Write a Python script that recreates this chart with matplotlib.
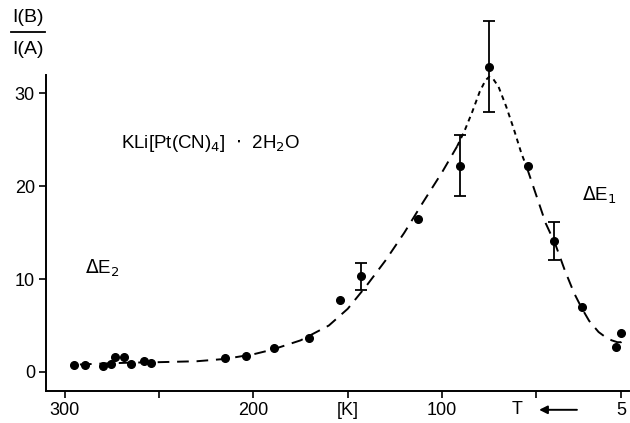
import numpy as np
import matplotlib
matplotlib.use('Agg')
from matplotlib import pyplot as plt

# measured points: temperature [K] and intensity ratio I(B)/I(A)
temp = [295, 289.4, 280, 275.5, 273.5, 268.6, 265, 258.2, 254.5, 215, 204, 189,
        170.4, 154, 143, 113, 90.5, 75, 54.5, 40.4, 26, 7.8, 4.9]
ratio = [0.75, 0.75, 0.65, 0.8, 1.6, 1.6, 0.9, 1.15, 0.95, 1.55, 1.75, 2.6,
         3.7, 7.7, 10.3, 16.5, 22.2, 32.9, 22.2, 14.05, 7.0, 2.7, 4.15]

# error bars (lower, upper) for the few points that have them
err_temp = [143, 90.5, 75, 40.4]
err_val = [10.3, 22.2, 32.9, 14.05]
err_lo = [8.8, 18.9, 28.0, 12.1]
err_hi = [11.7, 25.5, 37.8, 16.1]

# guide curve (three pieces, different dash lengths)
curve_left_t = [292, 280, 265, 250, 230, 215, 200, 190, 175, 160, 150, 140, 130, 120, 110, 100, 92]
curve_left_v = [0.8, 0.9, 1.0, 1.05, 1.15, 1.4, 1.9, 2.4, 3.4, 5.0, 6.8, 9.3, 12.0, 15.0, 18.3, 21.5, 24.3]
curve_peak_t = [92, 88, 84, 80, 77, 75, 73, 70, 66, 62, 58, 55]
curve_peak_v = [24.3, 26.0, 28.0, 30.2, 31.4, 31.8, 31.6, 30.7, 28.6, 26.2, 23.6, 22.0]
curve_right_t = [55, 50, 45, 40, 35, 30, 26, 22, 17, 13, 10, 7, 5, 3.5]
curve_right_v = [22.0, 19.0, 16.0, 13.8, 11.0, 8.5, 6.9, 5.5, 4.3, 3.7, 3.4, 3.2, 3.2, 3.4]

plt.rcParams['font.family'] = ['Liberation Sans', 'DejaVu Sans']

fig = plt.figure(figsize=(6.3, 4.23), dpi=100)
ax = fig.add_axes([0.073, 0.076, 0.925, 0.747])

ax.plot(curve_left_t, curve_left_v, color='black', lw=1.4, dashes=(6, 4))
ax.plot(curve_peak_t, curve_peak_v, color='black', lw=1.4, dashes=(2.5, 2.2))
ax.plot(curve_right_t, curve_right_v, color='black', lw=1.4, dashes=(6, 4))

ax.plot(temp, ratio, 'o', color='black', ms=5.5, clip_on=False, zorder=3)
yerr = [np.array(err_val) - np.array(err_lo), np.array(err_hi) - np.array(err_val)]
ax.errorbar(err_temp, err_val, yerr=yerr, fmt='none', ecolor='black',
            elinewidth=1.3, capsize=4, capthick=1.3, clip_on=False)

ax.set_xlim(310, 1)
ax.set_ylim(-2.04, 32)
ax.set_xticks([300, 250, 200, 150, 100, 50, 5])
ax.set_xticklabels(['300', '', '200', '[K]', '100', '', '5'])
ax.set_yticks([0, 10, 20, 30])
ax.tick_params(labelsize=13, length=5, width=1.2, pad=3)
for s in ['top', 'right']:
    ax.spines[s].set_visible(False)
for s in ['left', 'bottom']:
    ax.spines[s].set_linewidth(1.4)

# "T <-" under the axis
xt = ax.get_xaxis_transform()
ax.text(60, -0.058, 'T', transform=xt, ha='center', va='center', fontsize=13)
ax.annotate('', xy=(50, -0.06), xytext=(27, -0.06), xycoords=xt, textcoords=xt,
            arrowprops=dict(arrowstyle='-|>', color='black', lw=1.4, mutation_scale=12))

# y label as a fraction
fig.text(0.045, 0.958, 'I(B)', ha='center', va='center', fontsize=14)
fig.add_artist(plt.Line2D([0.018, 0.072], [0.925, 0.925], color='black', lw=1.3))
fig.text(0.045, 0.883, 'I(A)', ha='center', va='center', fontsize=14)

ax.text(270, 24.6, 'KLi[Pt(CN)$_4$]  $\\cdot$  2H$_2$O', fontsize=13.5, ha='left', va='center')
ax.text(289.5, 11.2, '$\\Delta$E$_2$', fontsize=13.5, ha='left', va='center')
ax.text(26, 19.0, '$\\Delta$E$_1$', fontsize=13.5, ha='left', va='center')

plt.savefig('out.png', dpi=100)
